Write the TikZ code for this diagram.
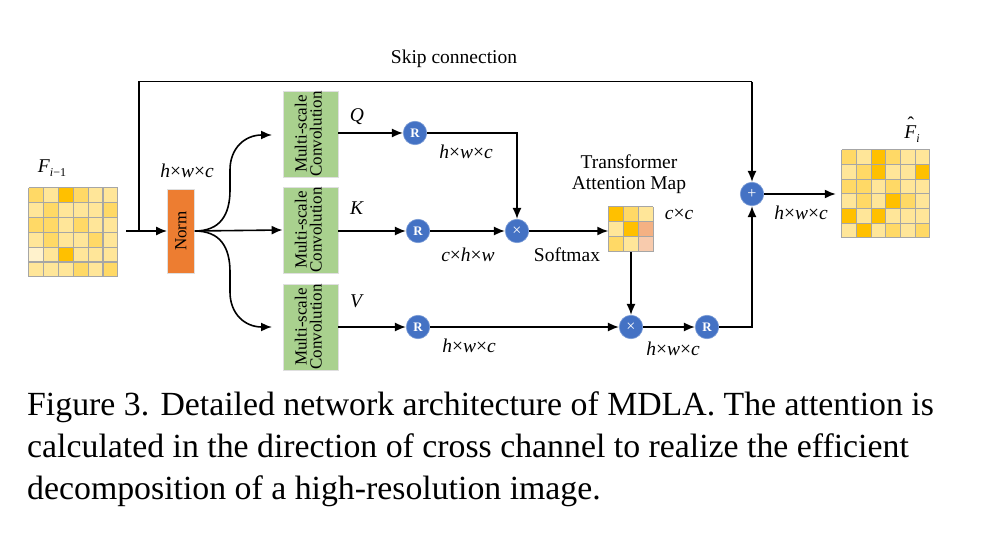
\documentclass[tikz,border=0pt]{standalone}
\usepackage{fontspec}
\setmainfont{Liberation Serif}
\usetikzlibrary{arrows.meta}
\definecolor{cblue}{HTML}{4472C4}
\definecolor{cgreen}{HTML}{A9D18E}
\definecolor{corange}{HTML}{ED7D31}
\definecolor{gL}{HTML}{FFE699}
\definecolor{gM}{HTML}{FFD966}
\definecolor{gD}{HTML}{FFC000}
\definecolor{gV}{HTML}{FFF2CC}
\definecolor{gP}{HTML}{F4B183}
\definecolor{gQ}{HTML}{F8CBAD}
\definecolor{gridline}{HTML}{A6A6A6}
\newcommand{\dimlab}[3]{\textit{#1}×\textit{#2}×\textit{#3}}
\newcommand{\gridrow}[3]{% #1 = y index, #2 = list of colours, #3 = cell size
  \foreach \cc [count=\xi from 0] in {#2} {
    \fill[\cc] (\xi*#3, #1*#3) rectangle ++(#3,#3);
  }}
\newcommand{\gridlines}[2]{% #1 = cells, #2 = cell size
  \foreach \k in {0,...,#1} {
    \draw[gridline,line width=1.2pt] (\k*#2,0) -- (\k*#2,#1*#2);
    \draw[gridline,line width=1.2pt] (0,\k*#2) -- (#1*#2,\k*#2);
  }}
\begin{document}
\begin{tikzpicture}[x=1pt,y=-1pt,
  plainln/.style={line width=1.6pt},
  arr/.style={line width=1.6pt,-{Latex[length=11pt,width=9pt]}},
  circ/.style={circle,fill=cblue,draw=cblue!70!white,line width=0.6pt,minimum size=23.5pt,inner sep=0pt,text=white,font=\fontsize{13}{13}\selectfont\bfseries},
  opcirc/.style={circ,font=\fontsize{16}{16}\selectfont},
  convbox/.style={fill=cgreen,draw=gray!25,line width=0.8pt,minimum width=55pt,minimum height=86pt,inner sep=0pt,font=\fontsize{17}{18}\selectfont},
  normbox/.style={fill=corange,draw=gray!25,line width=0.8pt,minimum width=27pt,minimum height=84pt,inner sep=0pt,font=\fontsize{17}{18}\selectfont},
  lab/.style={font=\fontsize{19.5}{21}\selectfont,inner sep=0pt},
  captext/.style={font=\fontsize{33.8}{40}\selectfont,anchor=base west,inner sep=0pt},
  gridbox/.style={minimum size=#1,inner sep=0pt}
]
\useasboundingbox (0,0) rectangle (997,559);

% ---------- grids ----------
\node[gridbox=89pt] (fin) at (73.5,232.5) {};
\begin{scope}[shift={(fin.north west)}]
  \gridrow{0}{gM,gL,gD,gM,gL,gL}{14.83}
  \gridrow{1}{gL,gM,gL,gL,gL,gM}{14.83}
  \gridrow{2}{gM,gM,gL,gM,gL,gL}{14.83}
  \gridrow{3}{gL,gM,gL,gL,gM,gL}{14.83}
  \gridrow{4}{gV,gL,gD,gL,gL,gL}{14.83}
  \gridrow{5}{gL,gL,gL,gM,gL,gM}{14.83}
  \gridlines{6}{14.83}
\end{scope}

\node[gridbox=88pt] (fout) at (886,194) {};
\begin{scope}[shift={(fout.north west)}]
  \gridrow{0}{gM,gL,gD,gM,gL,gL}{14.667}
  \gridrow{1}{gL,gM,gD,gL,gL,gD}{14.667}
  \gridrow{2}{gM,gM,gL,gM,gL,gL}{14.667}
  \gridrow{3}{gL,gM,gL,gD,gM,gL}{14.667}
  \gridrow{4}{gD,gL,gD,gL,gL,gL}{14.667}
  \gridrow{5}{gL,gD,gL,gM,gL,gM}{14.667}
  \gridlines{6}{14.667}
\end{scope}

\node[gridbox=45pt] (attn) at (631,229.5) {};
\begin{scope}[shift={(attn.north west)}]
  \gridrow{0}{gD,gM,gL}{15}
  \gridrow{1}{gL,gD,gP}{15}
  \gridrow{2}{gM,gL,gQ}{15}
  \gridlines{3}{15}
\end{scope}

% ---------- boxes ----------
\node[normbox] (norm) at (181,231) {\rotatebox{90}{Norm}};
\node[convbox] (convq) at (310.5,134) {\rotatebox{90}{\begin{tabular}{@{}c@{}}Multi-scale\\[-3pt]Convolution\end{tabular}}};
\node[convbox] (convk) at (310.5,230) {\rotatebox{90}{\begin{tabular}{@{}c@{}}Multi-scale\\[-3pt]Convolution\end{tabular}}};
\node[convbox] (convv) at (310.5,327) {\rotatebox{90}{\begin{tabular}{@{}c@{}}Multi-scale\\[-3pt]Convolution\end{tabular}}};

% ---------- circles ----------
\node[circ] (rq) at (415,133) {R};
\node[circ] (rk) at (418,231) {R};
\node[circ] (rv) at (418,327) {R};
\node[opcirc] (mqk) at (517,231) {×};
\node[opcirc] (mv) at (631,327) {×};
\node[circ] (rout) at (707,327) {R};
\node[opcirc] (plus) at (752,194) {+};

% ---------- coordinates ----------
\coordinate (skipa) at (139,231);
\coordinate (skipb) at (139,81.7);
\coordinate (skipc) at (752,81.7);
\coordinate (tq) at (272,135);
\coordinate (tv) at (272,327);

% ---------- connectors ----------
\draw[arr,shorten <=8pt] (fin.east |- norm.west) -- (norm.west);
\draw[plainln] (skipa) -- (skipb) -- (skipc);
\draw[arr] (skipc) -- (plus.north);

\draw[arr] (norm.east) .. controls (220,231) and (230,215) .. (230,190)
   -- (230,170) .. controls (230,148) and (245,135) .. (tq);
\draw[arr] (norm.east) .. controls (220,231) and (230,247) .. (230,272)
   -- (230,292) .. controls (230,314) and (245,327) .. (tv);
\draw[arr] (norm.east) -- (convk.west);

\draw[arr] (convq.east |- rq.west) -- (rq.west);
\draw[arr] (convk.east |- rk.west) -- (rk.west);
\draw[arr] (convv.east) -- (rv.west);

\draw[arr] (rq.east) -| (mqk.north);
\draw[arr] (rk.east) -- (mqk.west);
\draw[arr] (mqk.east) -- (attn.west |- mqk.east);
\draw[arr] (attn.south) -- (mv.north);
\draw[arr] (rv.east) -- (mv.west);
\draw[arr] (mv.east) -- (rout.west);
\draw[arr] (rout.east) -| (plus.south);
\draw[arr,shorten >=6pt] (plus.east) -- (fout.west);

% ---------- labels ----------
\node[lab] (lskip) at (454,59) {Skip connection};
\node[lab] (lfin) at (52,168) {\textit{F}\raisebox{-0.45ex}{\fontsize{12}{12}\selectfont\textit{i}−1}};
\node[lab] (lfout) at (912,130) {\textit{F}\llap{\raisebox{0.42em}{ˆ}\kern0.12em}\raisebox{-0.45ex}{\fontsize{12}{12}\selectfont\textit{i}}};
\node[lab] (ln1) at (187,171) {\dimlab{h}{w}{c}};
\node[lab] (lq) at (357,117) {\textit{Q}};
\node[lab] (lk) at (357,208) {\textit{K}};
\node[lab] (lv) at (357,301) {\textit{V}};
\node[lab] (l1) at (466,152) {\dimlab{h}{w}{c}};
\node[lab] (l2) at (468,255) {\dimlab{c}{h}{w}};
\node[lab] (l3) at (469,346) {\dimlab{h}{w}{c}};
\node[lab] (lsoft) at (567,255) {Softmax};
\node[lab] (ltr1) at (629,162) {Transformer};
\node[lab] (ltr2) at (629,185) {Attention Map};
\node[lab] (lcc) at (679,214) {\textit{c}×\textit{c}};
\node[lab] (l4) at (673,349) {\dimlab{h}{w}{c}};
\node[lab] (l5) at (801,213) {\dimlab{h}{w}{c}};

% ---------- caption ----------
\node[captext] (c1) at (27,415) {Figure 3. Detailed network architecture of MDLA. The attention is};
\node[captext] (c2) at (27,457) {calculated in the direction of cross channel to realize the efficient};
\node[captext] (c3) at (27,499) {decomposition of a high-resolution image.};
\end{tikzpicture}
\end{document}
